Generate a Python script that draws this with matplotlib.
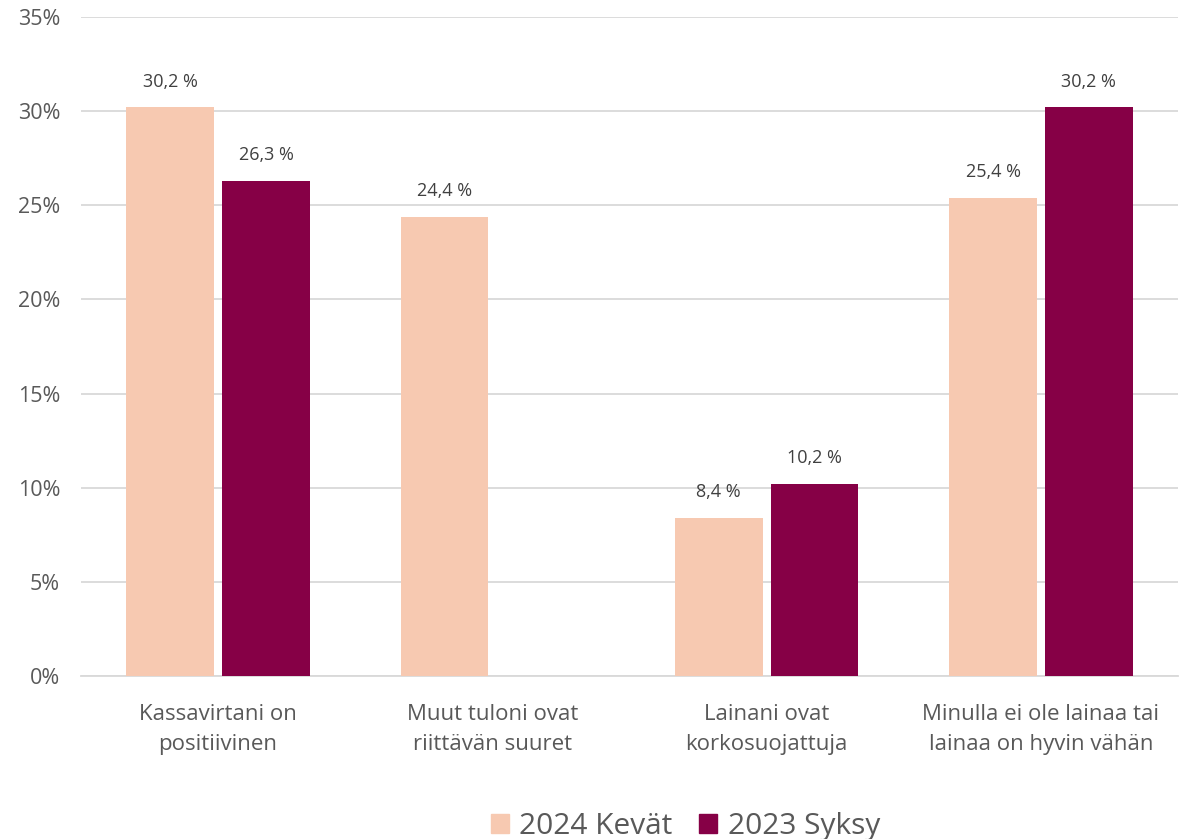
import matplotlib
matplotlib.use("Agg")
import matplotlib.pyplot as plt
import numpy as np
from matplotlib.ticker import FuncFormatter
from matplotlib.patches import Patch

categories = ["Kassavirtani on\npositiivinen", "Muut tuloni ovat\nriittävän suuret",
              "Lainani ovat\nkorkosuojattuja", "Minulla ei ole lainaa tai\nlainaa on hyvin vähän"]
series_names = ["2024 Kevät", "2023 Syksy"]
kevat_2024 = [30.2, 24.4, 8.4, 25.4]
syksy_2023 = [26.3, None, 10.2, 30.2]
colors = ["#F7C9B1", "#860046"]

plt.rcParams['font.family'] = ['Open Sans', 'DejaVu Sans']
txt = "#595959"

fig = plt.figure(figsize=(11.88, 8.39), dpi=100)
ax = fig.add_axes([81 / 1188, 163 / 839, 1097 / 1188, 659 / 839])

x = np.arange(len(categories))
w = 0.32
gap = 0.0145
for vals, off, col in [(kevat_2024, -(w/2 + gap), colors[0]), (syksy_2023, (w/2 + gap), colors[1])]:
    for xi, v in zip(x, vals):
        if v is None:
            continue
        ax.bar(xi + off, v, width=w, color=col, zorder=3)
        ax.annotate(f"{v:.1f} %".replace(".", ","), (xi + off, v), xytext=(0, 12),
                    textcoords="offset points", ha="center", va="bottom",
                    fontsize=13, color="#404040")

ax.set_xlim(-0.5, len(categories) - 0.5)
ax.set_ylim(0, 35)
ax.set_yticks(np.arange(0, 36, 5))
ax.yaxis.set_major_formatter(FuncFormatter(lambda v, p: f"{int(v)}%"))
ax.grid(axis="y", color="#D9D9D9", linewidth=1.3, zorder=0)
for s in ["top", "right", "left"]:
    ax.spines[s].set_visible(False)
ax.spines["bottom"].set_color("#D9D9D9")
ax.spines["bottom"].set_linewidth(1.3)
ax.tick_params(axis="y", length=0, labelsize=15.5, colors=txt, pad=15)
ax.set_xticks(x)
ax.set_xticklabels(categories, linespacing=1.55, fontsize=16, color=txt)
ax.tick_params(axis="x", length=0, pad=20)

handles = [Patch(color=c) for c in colors]
fig.legend(handles, series_names, loc="lower center", bbox_to_anchor=(0.577, -0.034), ncol=2,
           frameon=False, fontsize=21.5, labelcolor=txt, handlelength=0.6, handleheight=0.6,
           handletextpad=0.35, columnspacing=0.9)

fig.savefig("out.png", dpi=100)
